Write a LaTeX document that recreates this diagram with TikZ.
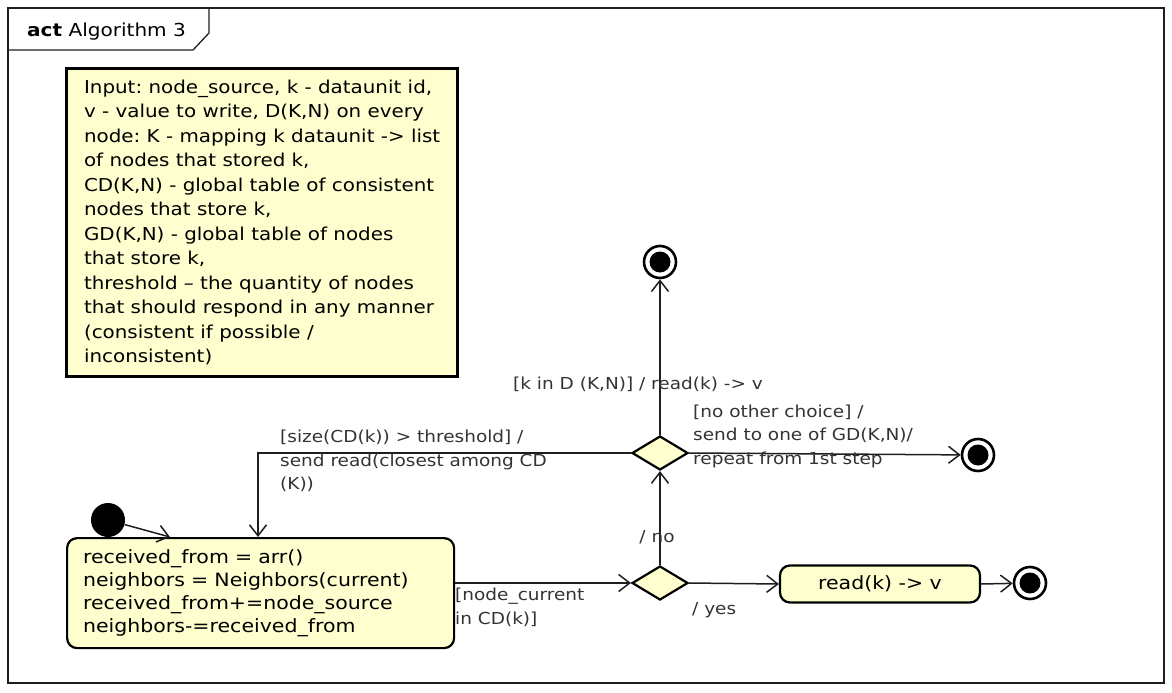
\documentclass[tikz,border=0pt]{standalone}
\usepackage{fontspec}
\setmainfont{DejaVu Sans}[FakeStretch=1.12]
\usetikzlibrary{positioning,arrows.meta,shapes.geometric,calc}
\definecolor{umlyellow}{RGB}{254,254,206}
\definecolor{umlline}{RGB}{30,30,30}
\frenchspacing

\begin{document}
\begin{tikzpicture}[x=1pt, y=-1pt, >={Straight Barb[length=11pt,width=17pt]},
  every node/.style={font=\fontsize{18.3}{24.5}\selectfont},
  flow/.style={->, line width=1.5pt, draw=umlline},
  guard/.style={align=left, text=black!80, inner sep=0pt, font=\fontsize{16.5}{23.5}\selectfont},
  action/.style={draw, line width=2.2pt, fill=umlyellow, rounded corners=10pt, align=left},
  decision/.style={diamond, draw, line width=2.2pt, fill=umlyellow, minimum width=56pt, minimum height=34pt, inner sep=0pt},
  startnode/.style={circle, fill=black, minimum size=34pt, inner sep=0pt},
  endnode/.style={circle, draw, line width=2.6pt, fill=white, minimum size=32pt, inner sep=0pt,
    path picture={\fill[black] (path picture bounding box.center) circle (10.5pt);}}]

\useasboundingbox (0,0) rectangle (1172,693);

% ---------------- frame ----------------
\draw[line width=1.3pt, draw=umlline] (8,8) rectangle (1164,683);
\draw[line width=1.3pt, draw=umlline] (8,50) -- (193,50) -- (209,33) -- (209,8);
\node[anchor=base west, inner sep=0pt, font=\fontsize{17.9}{20}\selectfont] (title) at (27,37) {\textbf{act} Algorithm 3};

% ---------------- note ----------------
\node[draw, line width=3.2pt, fill=umlyellow, anchor=north west, minimum width=391pt, minimum height=308pt,
  inner xsep=17pt, align=left, font=\fontsize{17.75}{24.5}\selectfont] (note) at (65,67)
  {Input: node\_source, k - dataunit id,\\
   v - value to write, D(K,N) on every\\
   node: K - mapping k dataunit -> list\\
   of nodes that stored k,\\
   CD(K,N) - global table of consistent\\
   nodes that store k,\\
   GD(K,N) - global table of nodes\\
   that store k,\\
   threshold -- the quantity of nodes\\
   that should respond in any manner\\
   (consistent if possible /\\
   inconsistent)};

% ---------------- nodes ----------------
\node[startnode] (init) at (108,520) {};
\node[action, anchor=north west, minimum width=387pt, minimum height=110pt, text width=355pt, inner xsep=16pt,
  font=\fontsize{18.3}{23}\selectfont] (state) at (66,537)
  {received\_from = arr()\\
   neighbors = Neighbors(current)\\
   received\_from+=node\_source\\
   neighbors-=received\_from};
\node[decision] (d2) at (660,583) {};
\node[decision] (d1) at (660,453) {};
\node[endnode] (fin1) at (660,262) {};
\node[endnode] (fin2) at (978,455) {};
\node[action, minimum width=200pt, minimum height=37pt] (read) at (880,584) {read(k) -> v};
\node[endnode] (fin3) at (1030,583) {};

% ---------------- flows ----------------
\draw[flow] (init) -- ($(state.north west)+(104,0)$);
\draw[flow] (state.east |- d2) -- (d2.west);
\draw[flow] (d2.east) -- (read.west);
\draw[flow] (read.east) -- (fin3);
\draw[flow] (d2.north) -- (d1.south);
\draw[flow] (d1.north) -- (fin1);
\draw[flow] (d1.east) -- (fin2);
\draw[flow] (d1.west) -| ($(state.north west)+(192,0)$);

% ---------------- guards ----------------
\node[guard, anchor=north west] (gcur) at (455,588) {[node\_current\\in CD(k)]};
\node[guard, anchor=west] (gyes) at (692,610) {/ yes};
\node[guard] (gno) at (657,537) {/ no};
\node[guard] (gread) at (638,384) {[k in D (K,N)] / read(k) -> v};
\node[guard, anchor=west] (gother) at (693,436) {[no other choice] /\\send to one of GD(K,N)/\\repeat from 1st step};
\node[guard, anchor=north west] (gsize) at (280,430) {[size(CD(k)) > threshold] /\\send read(closest among CD\\(K))};

\end{tikzpicture}
\end{document}
